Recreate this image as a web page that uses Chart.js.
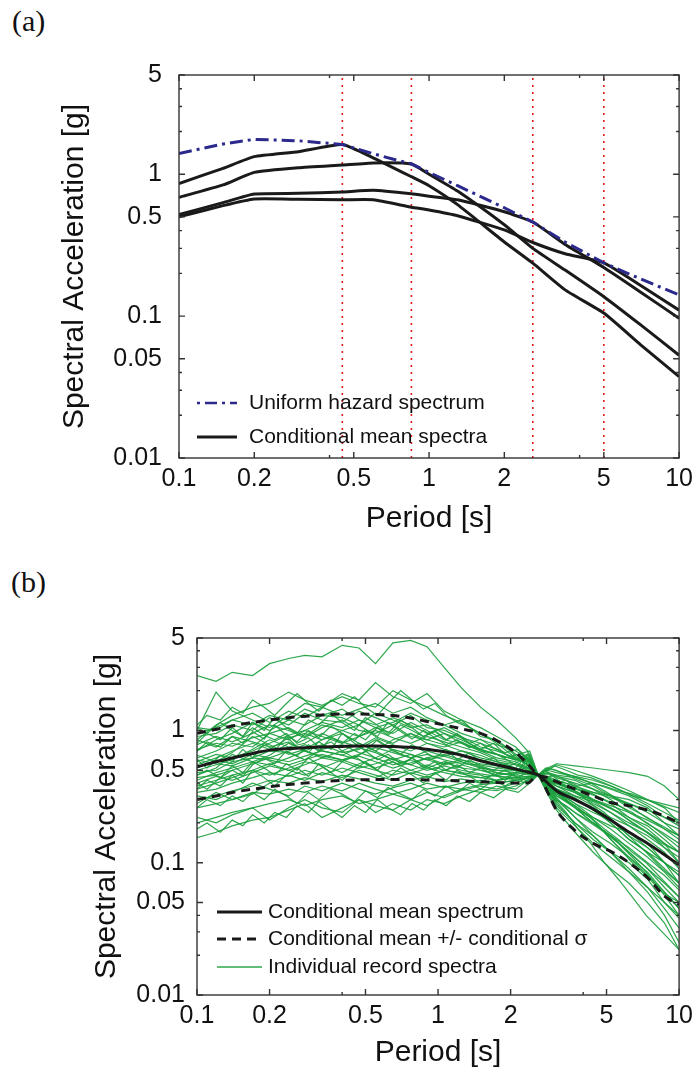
<!DOCTYPE html>
<html>
<head>
<meta charset="utf-8">
<script src="https://cdn.jsdelivr.net/npm/chart.js@4.4.1/dist/chart.umd.min.js"></script>
<style>
  body { margin: 0; background: #fff; width: 699px; height: 1074px; position: relative; overflow: hidden; }
  .painel { position: absolute; left: 0; }
  .rotulo { position: absolute; font-family: "Liberation Serif", "DejaVu Serif", serif; font-size: 30px; line-height: 30px; color: #111; }
</style>
</head>
<body>
<div class="rotulo" style="left:12px; top:6px;">(a)</div>
<div class="painel" style="top:0;"><canvas id="graficoA" width="699" height="540"></canvas></div>
<div class="rotulo" style="left:11px; top:567px;">(b)</div>
<div class="painel" style="top:540px;"><canvas id="graficoB" width="699" height="534"></canvas></div>
<script>
// ---- eixos (marcas e rotulos) ----
var marcasX = [0.1, 0.2, 0.4, 0.5, 1, 2, 4, 5, 10];
var rotulosX = [0.1, 0.2, 0.5, 1, 2, 5, 10];
var marcasY = [0.01, 0.02, 0.03, 0.04, 0.05, 0.1, 0.2, 0.3, 0.4, 0.5, 1, 2, 3, 4, 5];
var rotulosY = [0.01, 0.05, 0.1, 0.5, 1, 5];

// ---- painel (a) ----
var periodosA = [0.1, 0.15, 0.2, 0.3, 0.45, 0.6, 0.85, 1.0, 1.3, 2.0, 2.6, 3.5, 5.0, 7.0, 10.0];
var espectroUniforme = [1.40, 1.63, 1.76, 1.72, 1.62, 1.39, 1.18, 1.03, 0.83, 0.58, 0.46, 0.333, 0.237, 0.183, 0.141];
var cms045 = [0.86, 1.10, 1.33, 1.44, 1.62, 1.30, 0.96, 0.83, 0.61, 0.333, 0.236, 0.153, 0.105, 0.063, 0.0374];
var cms085 = [0.687, 0.84, 1.03, 1.11, 1.16, 1.20, 1.18, 1.00, 0.76, 0.44, 0.30, 0.211, 0.137, 0.087, 0.053];
var cms26 = [0.52, 0.63, 0.725, 0.733, 0.75, 0.77, 0.727, 0.70, 0.66, 0.544, 0.46, 0.32, 0.22, 0.148, 0.0964];
var cms50 = [0.50, 0.60, 0.668, 0.666, 0.66, 0.66, 0.585, 0.56, 0.51, 0.405, 0.33, 0.275, 0.237, 0.165, 0.110];
var periodosCondicionantes = [0.45, 0.85, 2.6, 5.0];

// ---- painel (b) ----
var periodosB = [0.1, 0.12, 0.14, 0.17, 0.2, 0.24, 0.28, 0.33, 0.4, 0.47, 0.55, 0.65, 0.77, 0.9, 1.06,
    1.25, 1.5, 1.75, 2.1, 2.35, 2.6, 2.85, 3.1, 3.7, 4.4, 5.2, 6.2, 7.4, 8.7, 10];
var mediaCondicional = [0.53, 0.58, 0.62, 0.67, 0.71, 0.73, 0.74, 0.75, 0.757, 0.762, 0.763, 0.755, 0.745, 0.72, 0.69,
    0.65, 0.59, 0.55, 0.51, 0.485, 0.46, 0.40, 0.35, 0.30, 0.255, 0.21, 0.17, 0.14, 0.115, 0.096];
var mediaMaisSigma = [0.95, 1.02, 1.08, 1.15, 1.2, 1.25, 1.28, 1.31, 1.33, 1.33, 1.32, 1.3, 1.24, 1.17, 1.1,
    1.03, 0.95, 0.84, 0.68, 0.56, 0.46, 0.44, 0.41, 0.36, 0.32, 0.285, 0.27, 0.25, 0.225, 0.2];
var mediaMenosSigma = [0.30, 0.32, 0.34, 0.36, 0.375, 0.39, 0.40, 0.41, 0.42, 0.423, 0.425, 0.425, 0.425, 0.423, 0.42,
    0.415, 0.41, 0.405, 0.40, 0.40, 0.46, 0.34, 0.25, 0.175, 0.14, 0.122, 0.10, 0.077, 0.056, 0.048];

var registro01 = [2.6, 2.35, 2.75, 2.6, 3.2, 3.5, 3.7, 3.6, 4.4, 4.2, 3.2, 4.6, 4.8, 4.3, 3.0, 2.1, 1.5, 1.2, 0.88, 0.7, 0.46, 0.52, 0.5, 0.43, 0.38, 0.32, 0.26, 0.22, 0.18, 0.16];
var registro02 = [1.0, 1.95, 1.4, 1.2, 1.05, 1.3, 1.6, 1.5, 1.9, 1.7, 2.3, 1.8, 1.6, 1.9, 1.4, 1.2, 1.05, 0.9, 0.75, 0.6, 0.46, 0.44, 0.42, 0.38, 0.34, 0.32, 0.3, 0.26, 0.2, 0.16];
var registro03 = [0.85, 1.1, 1.3, 1.5, 1.6, 1.95, 1.7, 1.55, 1.8, 1.6, 1.5, 2.0, 1.7, 1.5, 1.3, 1.15, 0.95, 0.8, 0.62, 0.55, 0.46, 0.48, 0.45, 0.42, 0.36, 0.3, 0.24, 0.2, 0.16, 0.13];
var registro04 = [1.05, 1.0, 1.2, 1.35, 1.15, 1.4, 1.25, 1.5, 1.3, 1.45, 1.6, 1.35, 1.5, 1.25, 1.1, 1.2, 0.9, 0.85, 0.66, 0.6, 0.46, 0.5, 0.55, 0.5, 0.45, 0.4, 0.35, 0.3, 0.26, 0.2];
var registro05 = [0.9, 0.95, 1.1, 1.0, 1.25, 1.1, 1.35, 1.2, 1.15, 1.4, 1.25, 1.1, 1.3, 1.05, 1.0, 0.88, 0.8, 0.72, 0.6, 0.62, 0.46, 0.42, 0.38, 0.34, 0.28, 0.24, 0.2, 0.17, 0.14, 0.12];
var registro06 = [0.7, 0.85, 0.95, 1.15, 1.0, 1.2, 1.1, 1.3, 1.45, 1.2, 1.1, 1.25, 1.1, 0.95, 1.05, 0.9, 0.75, 0.7, 0.62, 0.55, 0.46, 0.4, 0.34, 0.28, 0.24, 0.21, 0.17, 0.14, 0.1, 0.08];
var registro07 = [0.62, 0.7, 0.8, 0.75, 0.95, 1.05, 0.9, 1.1, 1.0, 0.9, 1.05, 0.95, 1.15, 1.0, 0.85, 0.8, 0.7, 0.62, 0.58, 0.52, 0.46, 0.43, 0.4, 0.37, 0.3, 0.26, 0.22, 0.19, 0.15, 0.12];
var registro08 = [0.55, 0.62, 0.7, 0.8, 0.72, 0.88, 0.95, 0.85, 1.0, 1.1, 0.9, 0.8, 0.95, 0.85, 0.78, 0.7, 0.65, 0.58, 0.55, 0.5, 0.46, 0.38, 0.33, 0.26, 0.2, 0.16, 0.12, 0.09, 0.07, 0.055];
var registro09 = [0.5, 0.55, 0.6, 0.72, 0.85, 0.75, 0.8, 0.95, 0.82, 0.75, 0.88, 0.78, 0.7, 0.8, 0.72, 0.66, 0.6, 0.56, 0.52, 0.48, 0.46, 0.4, 0.36, 0.3, 0.26, 0.22, 0.19, 0.16, 0.13, 0.11];
var registro10 = [0.48, 0.5, 0.58, 0.62, 0.7, 0.68, 0.6, 0.72, 0.78, 0.68, 0.62, 0.72, 0.66, 0.6, 0.64, 0.58, 0.52, 0.5, 0.48, 0.47, 0.46, 0.36, 0.3, 0.24, 0.2, 0.16, 0.13, 0.1, 0.08, 0.062];
var registro11 = [0.42, 0.48, 0.52, 0.58, 0.55, 0.62, 0.7, 0.64, 0.6, 0.66, 0.74, 0.68, 0.62, 0.66, 0.6, 0.56, 0.55, 0.52, 0.5, 0.5, 0.46, 0.42, 0.38, 0.32, 0.27, 0.2, 0.15, 0.12, 0.09, 0.07];
var registro12 = [0.38, 0.42, 0.46, 0.5, 0.56, 0.5, 0.55, 0.62, 0.58, 0.52, 0.56, 0.62, 0.55, 0.5, 0.54, 0.5, 0.47, 0.45, 0.44, 0.45, 0.46, 0.37, 0.31, 0.22, 0.17, 0.14, 0.11, 0.085, 0.06, 0.045];
var registro13 = [0.34, 0.36, 0.4, 0.44, 0.48, 0.45, 0.5, 0.46, 0.52, 0.48, 0.44, 0.5, 0.47, 0.52, 0.48, 0.45, 0.44, 0.46, 0.42, 0.44, 0.46, 0.34, 0.26, 0.19, 0.14, 0.11, 0.085, 0.065, 0.045, 0.032];
var registro14 = [0.3, 0.32, 0.35, 0.38, 0.42, 0.4, 0.44, 0.41, 0.46, 0.43, 0.4, 0.38, 0.42, 0.45, 0.41, 0.43, 0.4, 0.42, 0.44, 0.43, 0.46, 0.4, 0.35, 0.3, 0.25, 0.2, 0.15, 0.12, 0.1, 0.08];
var registro15 = [0.26, 0.28, 0.3, 0.34, 0.33, 0.36, 0.34, 0.38, 0.35, 0.4, 0.36, 0.33, 0.36, 0.4, 0.37, 0.4, 0.42, 0.4, 0.42, 0.44, 0.46, 0.36, 0.28, 0.2, 0.15, 0.12, 0.1, 0.075, 0.05, 0.038];
var registro16 = [0.2, 0.22, 0.24, 0.26, 0.28, 0.3, 0.27, 0.3, 0.32, 0.28, 0.3, 0.33, 0.3, 0.34, 0.31, 0.35, 0.38, 0.36, 0.4, 0.44, 0.46, 0.42, 0.38, 0.34, 0.3, 0.26, 0.21, 0.17, 0.13, 0.1];
var registro17 = [0.155, 0.17, 0.19, 0.21, 0.22, 0.25, 0.28, 0.22, 0.26, 0.3, 0.24, 0.28, 0.25, 0.3, 0.28, 0.32, 0.36, 0.35, 0.38, 0.42, 0.46, 0.38, 0.3, 0.22, 0.16, 0.12, 0.085, 0.06, 0.04, 0.025];
var registro18 = [0.22, 0.2, 0.23, 0.26, 0.21, 0.26, 0.3, 0.26, 0.24, 0.3, 0.27, 0.25, 0.3, 0.27, 0.32, 0.36, 0.34, 0.38, 0.36, 0.42, 0.46, 0.35, 0.27, 0.2, 0.16, 0.12, 0.09, 0.065, 0.05, 0.04];
var registro19 = [0.65, 0.58, 0.68, 0.9, 0.78, 0.66, 0.72, 0.85, 0.95, 0.8, 0.7, 0.85, 0.95, 0.8, 0.75, 0.82, 0.7, 0.66, 0.6, 0.66, 0.46, 0.44, 0.4, 0.35, 0.3, 0.27, 0.24, 0.21, 0.18, 0.15];
var registro20 = [0.78, 0.9, 0.82, 0.95, 1.1, 1.0, 0.88, 1.05, 1.2, 1.0, 0.95, 1.1, 0.9, 0.85, 0.95, 0.8, 0.72, 0.66, 0.55, 0.52, 0.46, 0.41, 0.35, 0.28, 0.22, 0.18, 0.14, 0.11, 0.085, 0.065];
var registro21 = [0.46, 0.52, 0.66, 0.58, 0.65, 0.8, 0.7, 0.62, 0.7, 0.8, 0.7, 0.6, 0.55, 0.62, 0.56, 0.6, 0.53, 0.48, 0.46, 0.5, 0.46, 0.45, 0.42, 0.38, 0.33, 0.28, 0.22, 0.18, 0.14, 0.1];
var registro22 = [0.58, 0.66, 0.62, 0.7, 0.8, 0.92, 1.0, 0.9, 0.8, 0.9, 1.0, 0.88, 0.8, 0.9, 0.82, 0.75, 0.68, 0.6, 0.56, 0.53, 0.46, 0.37, 0.32, 0.27, 0.21, 0.15, 0.11, 0.08, 0.06, 0.045];
var registro23 = [0.36, 0.4, 0.44, 0.5, 0.46, 0.52, 0.58, 0.55, 0.48, 0.56, 0.62, 0.55, 0.6, 0.52, 0.58, 0.52, 0.5, 0.48, 0.45, 0.47, 0.46, 0.43, 0.4, 0.36, 0.34, 0.31, 0.28, 0.24, 0.2, 0.18];
var registro24 = [0.95, 1.05, 1.2, 1.1, 1.3, 1.2, 1.45, 1.3, 1.25, 1.1, 1.35, 1.2, 1.05, 1.1, 0.95, 0.85, 0.72, 0.66, 0.6, 0.58, 0.46, 0.39, 0.34, 0.26, 0.2, 0.16, 0.12, 0.09, 0.065, 0.05];
var registro25 = [0.72, 0.8, 0.76, 0.88, 0.95, 0.85, 1.0, 1.15, 1.05, 1.2, 1.05, 1.15, 1.35, 1.2, 1.1, 0.95, 0.85, 0.78, 0.7, 0.62, 0.46, 0.48, 0.46, 0.44, 0.4, 0.36, 0.32, 0.27, 0.22, 0.19];
var registro26 = [0.44, 0.46, 0.5, 0.56, 0.62, 0.58, 0.64, 0.7, 0.65, 0.6, 0.52, 0.58, 0.5, 0.46, 0.5, 0.47, 0.44, 0.42, 0.44, 0.45, 0.46, 0.33, 0.25, 0.17, 0.12, 0.09, 0.07, 0.05, 0.035, 0.022];
var registro27 = [0.32, 0.3, 0.34, 0.4, 0.36, 0.32, 0.38, 0.35, 0.4, 0.36, 0.33, 0.37, 0.4, 0.36, 0.38, 0.36, 0.39, 0.4, 0.42, 0.4, 0.46, 0.38, 0.32, 0.26, 0.22, 0.19, 0.17, 0.13, 0.1, 0.085];
var registro28 = [0.6, 0.56, 0.54, 0.62, 0.6, 0.55, 0.6, 0.66, 0.6, 0.64, 0.58, 0.52, 0.57, 0.62, 0.66, 0.6, 0.56, 0.54, 0.5, 0.52, 0.46, 0.42, 0.36, 0.32, 0.29, 0.24, 0.19, 0.15, 0.12, 0.09];
var registro29 = [0.85, 0.75, 0.9, 0.82, 0.75, 0.82, 0.7, 0.78, 0.68, 0.72, 0.85, 0.7, 0.62, 0.7, 0.64, 0.7, 0.62, 0.58, 0.52, 0.66, 0.46, 0.47, 0.44, 0.4, 0.36, 0.32, 0.28, 0.25, 0.22, 0.2];
var registro30 = [0.28, 0.34, 0.3, 0.33, 0.4, 0.46, 0.42, 0.48, 0.44, 0.5, 0.46, 0.42, 0.48, 0.44, 0.5, 0.48, 0.46, 0.42, 0.47, 0.55, 0.46, 0.4, 0.36, 0.31, 0.25, 0.21, 0.16, 0.13, 0.1, 0.07];
var registro31 = [0.52, 0.6, 0.56, 0.66, 0.62, 0.7, 0.78, 0.7, 0.65, 0.74, 0.68, 0.6, 0.66, 0.6, 0.55, 0.58, 0.52, 0.5, 0.5, 0.48, 0.46, 0.52, 0.56, 0.54, 0.52, 0.5, 0.48, 0.45, 0.38, 0.3];
var registro32 = [0.4, 0.45, 0.42, 0.48, 0.54, 0.5, 0.46, 0.52, 0.6, 0.54, 0.5, 0.46, 0.5, 0.55, 0.5, 0.55, 0.5, 0.46, 0.48, 0.5, 0.46, 0.5, 0.48, 0.45, 0.42, 0.38, 0.33, 0.28, 0.24, 0.21];

// registros lidos numa grade mais fina
var periodosFinos = [0.1, 0.11, 0.125, 0.14, 0.155, 0.17, 0.19, 0.21, 0.235, 0.26, 0.29, 0.32, 0.36, 0.4, 0.45,
    0.5, 0.56, 0.62, 0.7, 0.78, 0.87, 0.97, 1.08, 1.2, 1.35, 1.5, 1.7, 1.9, 2.15, 2.4, 2.6,
    2.8, 3.05, 3.4, 3.8, 4.3, 4.9, 5.6, 6.4, 7.3, 8.5, 10];
var registro33 = [0.8, 0.95, 0.85, 1.05, 0.9, 1.15, 1.0, 1.25, 1.05, 0.95, 1.2, 1.1, 1.35, 1.15, 1.0, 1.25, 1.1, 0.95, 1.2, 1.05, 0.9, 1.0, 0.85, 0.95, 0.8, 0.72, 0.8, 0.66, 0.6, 0.55, 0.46, 0.44, 0.4, 0.42, 0.36, 0.33, 0.3, 0.27, 0.24, 0.2, 0.17, 0.14];
var registro34 = [0.6, 0.52, 0.65, 0.58, 0.72, 0.62, 0.8, 0.7, 0.9, 0.75, 0.68, 0.82, 0.72, 0.95, 0.8, 0.7, 0.85, 0.75, 0.66, 0.78, 0.7, 0.62, 0.72, 0.6, 0.68, 0.58, 0.62, 0.52, 0.58, 0.62, 0.46, 0.5, 0.44, 0.38, 0.34, 0.28, 0.24, 0.19, 0.15, 0.12, 0.09, 0.07];
var registro35 = [0.36, 0.42, 0.38, 0.46, 0.4, 0.5, 0.44, 0.38, 0.46, 0.52, 0.45, 0.56, 0.48, 0.42, 0.5, 0.58, 0.5, 0.44, 0.52, 0.46, 0.4, 0.48, 0.42, 0.5, 0.45, 0.4, 0.47, 0.42, 0.5, 0.6, 0.46, 0.42, 0.36, 0.3, 0.26, 0.22, 0.17, 0.14, 0.11, 0.085, 0.06, 0.04];
var registro36 = [1.1, 1.3, 1.2, 1.5, 1.35, 1.7, 1.5, 1.3, 1.6, 1.9, 1.6, 1.4, 1.7, 1.55, 1.8, 1.5, 1.3, 1.6, 2.0, 1.7, 1.45, 1.6, 1.3, 1.15, 1.05, 0.95, 0.85, 0.75, 0.62, 0.58, 0.46, 0.5, 0.54, 0.5, 0.46, 0.44, 0.4, 0.36, 0.32, 0.3, 0.27, 0.24];
var registro37 = [0.18, 0.2, 0.17, 0.21, 0.19, 0.23, 0.2, 0.24, 0.22, 0.27, 0.24, 0.29, 0.25, 0.22, 0.27, 0.24, 0.3, 0.26, 0.23, 0.28, 0.25, 0.3, 0.27, 0.32, 0.29, 0.34, 0.31, 0.36, 0.34, 0.4, 0.46, 0.4, 0.34, 0.3, 0.25, 0.22, 0.18, 0.15, 0.12, 0.1, 0.075, 0.055];
var registro38 = [0.4, 0.36, 0.44, 0.5, 0.45, 0.55, 0.62, 0.56, 0.7, 0.64, 0.78, 0.7, 0.88, 0.8, 0.95, 0.85, 1.05, 0.92, 1.1, 1.0, 0.9, 0.98, 0.85, 0.92, 0.8, 0.86, 0.74, 0.68, 0.72, 0.6, 0.46, 0.44, 0.46, 0.42, 0.38, 0.4, 0.35, 0.3, 0.26, 0.22, 0.19, 0.16];
var registro39 = [1.05, 0.95, 1.15, 1.0, 0.9, 1.05, 0.92, 0.85, 0.95, 0.8, 0.88, 0.75, 0.82, 0.7, 0.62, 0.7, 0.6, 0.66, 0.56, 0.62, 0.52, 0.58, 0.5, 0.55, 0.48, 0.52, 0.46, 0.5, 0.44, 0.5, 0.46, 0.38, 0.3, 0.24, 0.18, 0.14, 0.1, 0.075, 0.055, 0.04, 0.03, 0.022];
var registro40 = [0.7, 0.82, 0.75, 0.9, 0.8, 0.98, 0.86, 1.1, 0.92, 0.82, 1.0, 0.88, 1.08, 0.95, 0.84, 1.02, 0.9, 1.15, 0.98, 0.86, 1.0, 0.88, 0.78, 0.85, 0.74, 0.8, 0.68, 0.62, 0.66, 0.7, 0.46, 0.52, 0.5, 0.47, 0.44, 0.4, 0.38, 0.35, 0.33, 0.3, 0.28, 0.26];
var registro41 = [0.46, 0.5, 0.44, 0.54, 0.48, 0.58, 0.52, 0.46, 0.56, 0.5, 0.62, 0.55, 0.48, 0.58, 0.64, 0.56, 0.5, 0.6, 0.54, 0.62, 0.55, 0.5, 0.58, 0.52, 0.6, 0.54, 0.5, 0.56, 0.5, 0.66, 0.46, 0.36, 0.3, 0.27, 0.23, 0.2, 0.17, 0.13, 0.1, 0.08, 0.06, 0.05];
var registro42 = [0.26, 0.3, 0.27, 0.32, 0.29, 0.34, 0.3, 0.36, 0.32, 0.28, 0.34, 0.3, 0.36, 0.33, 0.29, 0.35, 0.31, 0.37, 0.33, 0.3, 0.36, 0.32, 0.38, 0.34, 0.4, 0.36, 0.42, 0.38, 0.44, 0.41, 0.46, 0.44, 0.4, 0.37, 0.33, 0.3, 0.27, 0.24, 0.2, 0.17, 0.14, 0.12];

var registros = [registro01, registro02, registro03, registro04, registro05, registro06, registro07, registro08,
    registro09, registro10, registro11, registro12, registro13, registro14, registro15, registro16,
    registro17, registro18, registro19, registro20, registro21, registro22, registro23, registro24,
    registro25, registro26, registro27, registro28, registro29, registro30, registro31, registro32];
var registrosFinos = [registro33, registro34, registro35, registro36, registro37, registro38, registro39,
    registro40, registro41, registro42];

var corAzul = '#2b2a8c';
var corPreta = '#1a1a1a';
var corVerde = 'rgba(28, 160, 62, 0.92)';
var corVermelha = 'rgb(230, 25, 25)';

Chart.defaults.font.family = '"Liberation Sans", Arial, sans-serif';
Chart.defaults.color = '#111';

function serie(periodos, valores) {
    return periodos.map(function (p, i) { return { x: p, y: valores[i] }; });
}

// marcas internas nos quatro lados + moldura (estilo matlab)
var moldura = {
    id: 'moldura',
    afterDatasetsDraw: function (grafico) {
        var ctx = grafico.ctx, area = grafico.chartArea;
        var ex = grafico.scales.x, ey = grafico.scales.y;
        ctx.save();
        ctx.strokeStyle = '#333';
        ctx.lineWidth = 1.4;
        ctx.beginPath();
        marcasX.forEach(function (v) {
            var px = ex.getPixelForValue(v);
            var c = rotulosX.indexOf(v) >= 0 ? 6 : 3;
            ctx.moveTo(px, area.bottom); ctx.lineTo(px, area.bottom - c);
            ctx.moveTo(px, area.top); ctx.lineTo(px, area.top + c);
        });
        marcasY.forEach(function (v) {
            var py = ey.getPixelForValue(v);
            var c = rotulosY.indexOf(v) >= 0 ? 6 : 3;
            ctx.moveTo(area.left, py); ctx.lineTo(area.left + c, py);
            ctx.moveTo(area.right, py); ctx.lineTo(area.right - c, py);
        });
        ctx.stroke();
        ctx.strokeRect(area.left, area.top, area.right - area.left, area.bottom - area.top);
        ctx.restore();
    }
};

function criarLegenda(itens, inicio, fim, posTexto) {
    return {
        id: 'legendaInterna',
        afterDraw: function (grafico) {
            var ctx = grafico.ctx, area = grafico.chartArea;
            ctx.save();
            itens.forEach(function (item) {
                var y = area.bottom - item.deBaixo;
                ctx.beginPath();
                ctx.strokeStyle = item.cor;
                ctx.lineWidth = item.espessura;
                ctx.setLineDash(item.tracejado || []);
                ctx.moveTo(area.left + inicio, y);
                ctx.lineTo(area.left + fim, y);
                ctx.stroke();
                ctx.setLineDash([]);
                ctx.fillStyle = '#111';
                ctx.font = '21px "Liberation Sans", Arial, sans-serif';
                ctx.textBaseline = 'middle';
                ctx.fillText(item.texto, area.left + posTexto, y);
            });
            ctx.restore();
        }
    };
}

function criarOpcoes(cfg) {
    return {
        responsive: false,
        animation: false,
        layout: { padding: { left: 0, right: 699 - cfg.direita, top: cfg.topo, bottom: 0 } },
        elements: { point: { radius: 0 }, line: { tension: 0 } },
        plugins: { legend: { display: false }, tooltip: { enabled: false } },
        scales: {
            x: {
                type: 'logarithmic', min: 0.1, max: 10,
                afterBuildTicks: function (eixo) { eixo.ticks = marcasX.map(function (v) { return { value: v }; }); },
                afterFit: function (eixo) { eixo.height = cfg.alturaCanvas - cfg.base; },
                grid: { display: false, drawTicks: false },
                border: { display: false },
                ticks: {
                    autoSkip: false, maxRotation: 0, padding: cfg.padMarcaX, font: { size: 25 },
                    callback: function (v) { return rotulosX.indexOf(v) >= 0 ? String(v) : ''; }
                },
                title: { display: true, text: 'Period [s]', font: { size: 30 }, padding: { top: 0, bottom: cfg.padTituloX } }
            },
            y: {
                type: 'logarithmic', min: 0.01, max: 5,
                afterBuildTicks: function (eixo) { eixo.ticks = marcasY.map(function (v) { return { value: v }; }); },
                afterFit: function (eixo) { eixo.width = cfg.esquerda; },
                grid: { display: false, drawTicks: false },
                border: { display: false },
                ticks: {
                    autoSkip: false, padding: cfg.padMarcaY, font: { size: 25 },
                    callback: function (v) { return rotulosY.indexOf(v) >= 0 ? String(v) : ''; }
                },
                title: { display: true, text: 'Spectral Acceleration [g]', font: { size: 30 }, padding: { top: cfg.padTituloY, bottom: 0 } }
            }
        }
    };
}

document.addEventListener('DOMContentLoaded', function () {
    // ----- (a) -----
    var conjuntosA = [
        { data: serie(periodosA, espectroUniforme), borderColor: corAzul, borderWidth: 3, borderDash: [13, 5, 3, 5] },
        { data: serie(periodosA, cms045), borderColor: corPreta, borderWidth: 3, tension: 0.15 },
        { data: serie(periodosA, cms085), borderColor: corPreta, borderWidth: 3, tension: 0.15 },
        { data: serie(periodosA, cms26), borderColor: corPreta, borderWidth: 3, tension: 0.15 },
        { data: serie(periodosA, cms50), borderColor: corPreta, borderWidth: 3, tension: 0.15 }
    ];
    periodosCondicionantes.forEach(function (t) {
        conjuntosA.push({ data: [{ x: t, y: 0.01 }, { x: t, y: 5 }], borderColor: corVermelha, borderWidth: 1.6, borderDash: [2, 5] });
    });

    var opcoesA = criarOpcoes({ alturaCanvas: 540, topo: 75, base: 458, esquerda: 179, direita: 680,
        padMarcaX: 6, padMarcaY: 17, padTituloX: 3, padTituloY: 57 });

    new Chart(document.getElementById('graficoA').getContext('2d'), {
        type: 'line',
        data: { datasets: conjuntosA },
        options: opcoesA,
        plugins: [moldura, criarLegenda([
            { texto: 'Uniform hazard spectrum', cor: corAzul, espessura: 2.5, tracejado: [3, 5, 12, 5], deBaixo: 55 },
            { texto: 'Conditional mean spectra', cor: corPreta, espessura: 3, deBaixo: 21 }
        ], 18, 58, 70)]
    });

    // ----- (b) -----
    var conjuntosB = [
        { data: serie(periodosB, mediaCondicional), borderColor: corPreta, borderWidth: 3, cubicInterpolationMode: 'monotone' },
        { data: serie(periodosB, mediaMaisSigma), borderColor: corPreta, borderWidth: 3, borderDash: [9, 6], cubicInterpolationMode: 'monotone' },
        { data: serie(periodosB, mediaMenosSigma), borderColor: corPreta, borderWidth: 3, borderDash: [9, 6], cubicInterpolationMode: 'monotone' }
    ];
    registros.forEach(function (r) {
        conjuntosB.push({ data: serie(periodosB, r), borderColor: corVerde, borderWidth: 1.2 });
    });
    registrosFinos.forEach(function (r) {
        conjuntosB.push({ data: serie(periodosFinos, r), borderColor: corVerde, borderWidth: 1.2 });
    });

    var opcoesB = criarOpcoes({ alturaCanvas: 534, topo: 98, base: 455, esquerda: 197, direita: 680,
        padMarcaX: 6, padMarcaY: 12, padTituloX: 3, padTituloY: 89 });

    new Chart(document.getElementById('graficoB').getContext('2d'), {
        type: 'line',
        data: { datasets: conjuntosB },
        options: opcoesB,
        plugins: [moldura, criarLegenda([
            { texto: 'Conditional mean spectrum', cor: corPreta, espessura: 3, deBaixo: 83 },
            { texto: 'Conditional mean +/- conditional \u03c3', cor: corPreta, espessura: 3, tracejado: [9, 6], deBaixo: 56 },
            { texto: 'Individual record spectra', cor: corVerde, espessura: 1.5, deBaixo: 28 }
        ], 20, 65, 71)]
    });
});
</script>
</body>
</html>
